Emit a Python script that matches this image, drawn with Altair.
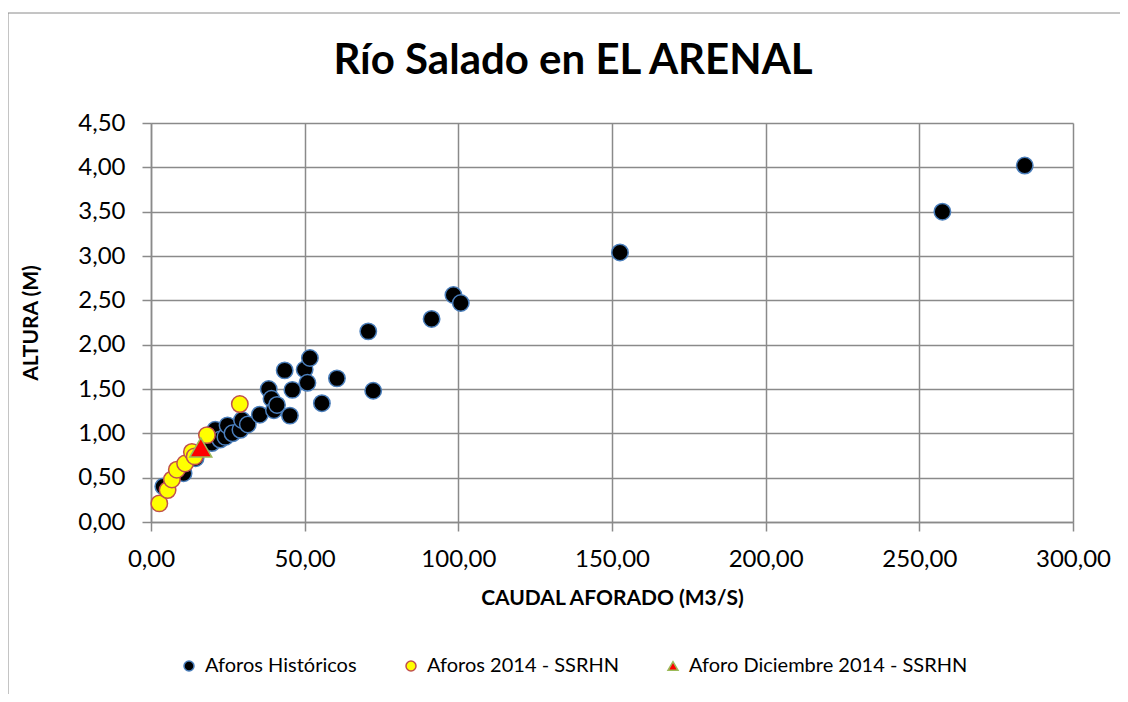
import altair as alt
import pandas as pd

# --- data ---
hist_q = [4.0, 10.6, 14.5, 19.8, 20.9, 22.5, 24.2, 24.9, 26.5, 29.1, 29.6, 31.5,
          35.4, 38.3, 39.2, 40.0, 41.0, 43.5, 45.2, 46.0, 50.0, 50.9, 51.7, 55.6,
          60.5, 70.7, 72.3, 91.3, 98.4, 100.8, 152.6, 257.5, 284.3]
hist_h = [0.40, 0.55, 0.72, 0.89, 1.04, 0.93, 0.96, 1.09, 1.00, 1.04, 1.15, 1.10,
          1.21, 1.50, 1.39, 1.26, 1.32, 1.71, 1.20, 1.49, 1.72, 1.57, 1.85, 1.34,
          1.62, 2.15, 1.48, 2.29, 2.56, 2.47, 3.04, 3.50, 4.02]

y2014_q = [2.7, 5.4, 6.8, 8.4, 11.1, 13.3, 14.2, 18.2, 28.9]
y2014_h = [0.21, 0.36, 0.48, 0.59, 0.66, 0.79, 0.74, 0.98, 1.33]

dic_q = [16.2]
dic_h = [0.84]

S_HIST = "Aforos Históricos"
S_2014 = "Aforos 2014 - SSRHN"
S_DIC = "Aforo Diciembre 2014 - SSRHN"
series = [S_HIST, S_2014, S_DIC]
fills = ["#000000", "#FFFF00", "#FF0000"]
strokes = ["#4A7EBB", "#C0504D", "#9BBB59"]
shapes = ["circle", "circle", "triangle-up"]

x_ticks = [0, 50, 100, 150, 200, 250, 300]
y_ticks = [0, 0.5, 1.0, 1.5, 2.0, 2.5, 3.0, 3.5, 4.0, 4.5]

df_hist = pd.DataFrame({"q": hist_q, "h": hist_h, "serie": S_HIST})
df_2014 = pd.DataFrame({"q": y2014_q, "h": y2014_h, "serie": S_2014})
df_dic = pd.DataFrame({"q": dic_q, "h": dic_h, "serie": S_DIC})

label_expr = "replace(format(datum.value, '.2f'), '.', ',')"

x_enc = alt.X("q:Q", scale=alt.Scale(domain=[0, 300], nice=False, zero=True),
              axis=alt.Axis(values=x_ticks, title="CAUDAL AFORADO (M3/S)",
                            labelExpr=label_expr, labelFlush=False,
                            labelPadding=16, titlePadding=16))
y_enc = alt.Y("h:Q", scale=alt.Scale(domain=[0, 4.5], nice=False, zero=True),
              axis=alt.Axis(values=y_ticks, title="ALTURA (M)",
                            labelExpr=label_expr, labelFlush=False,
                            labelPadding=17, titlePadding=36))

leg = alt.Legend(title=None)
fill_enc = alt.Fill("serie:N", scale=alt.Scale(domain=series, range=fills), legend=leg)
stroke_enc = alt.Stroke("serie:N", scale=alt.Scale(domain=series, range=strokes), legend=leg)
shape_enc = alt.Shape("serie:N", scale=alt.Scale(domain=series, range=shapes), legend=leg)


def layer(df, size):
    return alt.Chart(df).mark_point(size=size, strokeWidth=1.5, opacity=1).encode(
        x=x_enc, y=y_enc, fill=fill_enc, stroke=stroke_enc, shape=shape_enc
    )


border_df = pd.DataFrame({"b": [0]})
left_border = alt.Chart(border_df).mark_rule(color="#8a8a8a", strokeWidth=1).encode(
    x=alt.value(-143), y=alt.value(-110), y2=alt.value(571))
top_border = alt.Chart(border_df).mark_rule(color="#8a8a8a", strokeWidth=1).encode(
    x=alt.value(-143), x2=alt.value(975), y=alt.value(-110))

chart = alt.layer(
    left_border, top_border,
    layer(df_hist, 270), layer(df_2014, 270), layer(df_dic, 484)
).properties(
    width=922, height=399,
    padding={"left": 143, "top": 115, "right": 47, "bottom": 172},
    autosize=alt.AutoSizeParams(type="none"),
    title=alt.Title("Río Salado en EL ARENAL", font="Lato", fontSize=42,
                    fontWeight="bold", color="black", anchor="middle",
                    frame="group", dx=-39, offset=-103, baseline="alphabetic"),
).configure_view(stroke=None).configure_axis(
    labelFont="Lato", labelFontSize=24, labelColor="black",
    titleFont="Lato", titleFontSize=21, titleFontWeight="bold", titleColor="black",
    gridColor="#8a8a8a", gridWidth=1.5, domainColor="#8a8a8a", domainWidth=1.5,
    tickColor="#8a8a8a", tickSize=9, tickWidth=1.5,
).configure_legend(
    orient="none", legendX=28, legendY=533, direction="horizontal", columns=3,
    labelFont="Lato", labelFontSize=20, labelColor="black", symbolSize=100,
    symbolStrokeWidth=1.5, labelOffset=6, columnPadding=44, padding=0,
    labelLimit=500,
)

chart.save("out.html", embed_options={"renderer": "svg", "actions": False})
